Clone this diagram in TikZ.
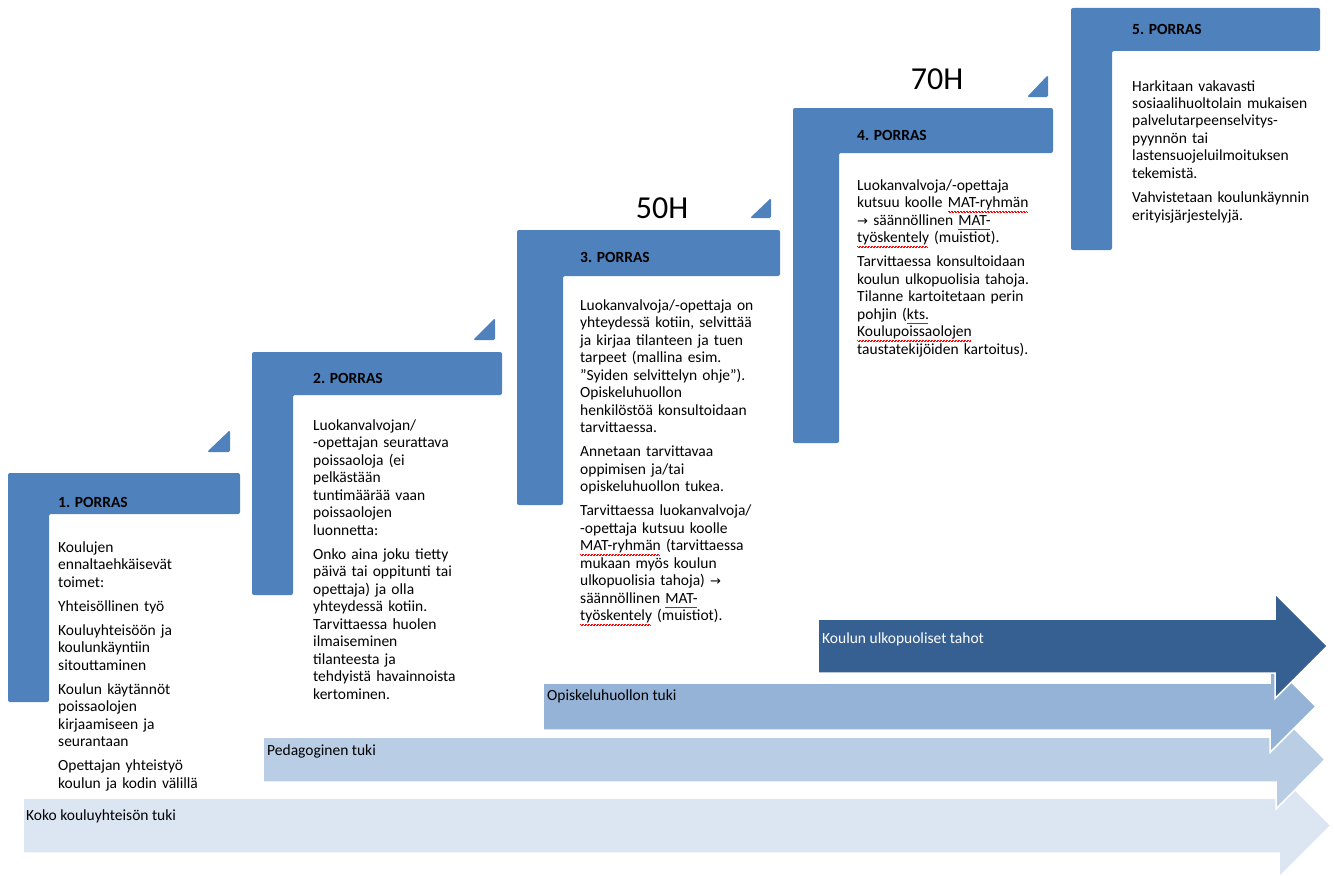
\documentclass[tikz,border=0pt]{standalone}
\usepackage{fontspec}
\setmainfont{Carlito}
\newfontfamily\arrowfont{DejaVu Sans}
\newcommand\wav[1]{\leavevmode\setbox0\hbox{#1}\rlap{\hbox to\wd0{\color{red}\leaders\hbox{\vrule width0.75pt height-3.7pt depth4.5pt\vrule width0.75pt height-4.3pt depth5.1pt}\hfill}}\box0\relax}
\definecolor{stepblue}{HTML}{4F81BD}
\definecolor{arrA}{HTML}{376092}
\definecolor{arrB}{HTML}{95B3D7}
\definecolor{arrC}{HTML}{B9CDE5}
\definecolor{arrD}{HTML}{DCE6F2}
\tikzset{
  stepshape/.style={fill=stepblue, rounded corners=2pt},
  steptri/.style={fill=stepblue, rounded corners=1.5pt},
  bandarrow/.style={draw=white, line width=1.5pt},
  headtxt/.style={anchor=base west, inner sep=0pt, font=\fontsize{15.5}{17.5}\selectfont\bfseries},
  bodytxt/.style={anchor=base west, inner sep=0pt, text width=300pt, align=left, font=\fontsize{15.5}{17.5}\selectfont},
  bandtxt/.style={anchor=base west, inner sep=0pt, font=\fontsize{15.5}{17.5}\selectfont},
  hourtxt/.style={anchor=center, inner sep=0pt, font=\fontsize{32}{36}\selectfont}
}
\begin{document}
\begin{tikzpicture}[x=1pt,y=-1pt]
\useasboundingbox (0,0) rectangle (1335,875);
\fill[white] (0,0) rectangle (1335,875);

% bottom band arrows
\filldraw[bandarrow, fill=arrD] (23,798) -- (1279,798) -- (1279,773.5) -- (1331,825.5) -- (1279,877.5) -- (1279,853) -- (23,853) -- cycle;
\filldraw[bandarrow, fill=arrC] (263,737) -- (1276,737) -- (1276,710) -- (1325,759.5) -- (1276,809) -- (1276,782) -- (263,782) -- cycle;
\filldraw[bandarrow, fill=arrB] (543,683) -- (1270,683) -- (1270,660.5) -- (1316,706.5) -- (1270,752.5) -- (1270,730) -- (543,730) -- cycle;
\filldraw[bandarrow, fill=arrA] (818,619) -- (1275,619) -- (1275,593.5) -- (1327.5,646) -- (1275,698.5) -- (1275,673) -- (818,673) -- cycle;

\node[bandtxt] (bandD) at (26,820) {Koko kouluyhteisön tuki};
\node[bandtxt] (bandC) at (267,755) {Pedagoginen tuki};
\node[bandtxt] (bandB) at (547,700) {Opiskeluhuollon tuki};
\node[bandtxt, text=white] (bandA) at (822,643) {Koulun ulkopuoliset tahot};

% steps
\fill[stepshape] (8,473) -- (240,473) -- (240,514) -- (49,514) -- (49,702) -- (8,702) -- cycle;
\fill[steptri] (207,452) -- (230,452) -- (230,430) -- cycle;
\fill[stepshape] (252,352) -- (502,352) -- (502,395) -- (293,395) -- (293,595) -- (252,595) -- cycle;
\fill[steptri] (473,340) -- (495,340) -- (495,318) -- cycle;
\fill[stepshape] (517,230) -- (780,230) -- (780,276) -- (563,276) -- (563,505) -- (517,505) -- cycle;
\fill[steptri] (750,218) -- (771,218) -- (771,198) -- cycle;
\fill[stepshape] (793,108) -- (1053,108) -- (1053,153) -- (839,153) -- (839,443) -- (793,443) -- cycle;
\fill[steptri] (1027,97) -- (1048,97) -- (1048,75) -- cycle;
\fill[stepshape] (1071,8) -- (1320,8) -- (1320,51) -- (1112,51) -- (1112,250) -- (1071,250) -- cycle;

\node[hourtxt] (h50) at (662,208) {50H};
\node[hourtxt] (h70) at (937,79) {70H};

\node[headtxt] (s1h) at (58,507) {1. PORRAS};
\node[bodytxt] (s1b) at (58,552) {Koulujen\\ennaltaehkäisevät\\toimet:\\[6.5pt]Yhteisöllinen työ\\[6.5pt]Kouluyhteisöön ja\\koulunkäyntiin\\sitouttaminen\\[6.5pt]Koulun käytännöt\\poissaolojen\\kirjaamiseen ja\\seurantaan\\[6.5pt]Opettajan yhteistyö\\koulun ja kodin välillä};

\node[headtxt] (s2h) at (313,383) {2. PORRAS};
\node[bodytxt] (s2b) at (313,430) {Luokanvalvojan/\\-opettajan seurattava\\poissaoloja (ei\\pelkästään\\tuntimäärää vaan\\poissaolojen\\luonnetta:\\[6.5pt]Onko aina joku tietty\\päivä tai oppitunti tai\\opettaja) ja olla\\yhteydessä kotiin.\\Tarvittaessa huolen\\ilmaiseminen\\tilanteesta ja\\tehdyistä havainnoista\\kertominen.};

\node[headtxt] (s3h) at (580,262) {3. PORRAS};
\node[bodytxt] (s3b) at (580,310) {Luokanvalvoja/-opettaja on\\yhteydessä kotiin, selvittää\\ja kirjaa tilanteen ja tuen\\tarpeet (mallina esim.\\”Syiden selvittelyn ohje”).\\Opiskeluhuollon\\henkilöstöä konsultoidaan\\tarvittaessa.\\[6.5pt]Annetaan tarvittavaa\\oppimisen ja/tai\\opiskeluhuollon tukea.\\[6.5pt]Tarvittaessa luokanvalvoja/\\-opettaja kutsuu koolle\\\wav{MAT-ryhmän} (tarvittaessa\\mukaan myös koulun\\ulkopuolisia tahoja) {\arrowfont\fontsize{13}{17.5}\selectfont →}\\säännöllinen \wav{MAT-}\\\wav{työskentely} (muistiot).};

\node[headtxt] (s4h) at (857,140) {4. PORRAS};
\node[bodytxt] (s4b) at (857,190) {Luokanvalvoja/-opettaja\\kutsuu koolle \wav{MAT-ryhmän}\\{\arrowfont\fontsize{13}{17.5}\selectfont →} säännöllinen \wav{MAT-}\\\wav{työskentely} (muistiot).\\[6.5pt]Tarvittaessa konsultoidaan\\koulun ulkopuolisia tahoja.\\Tilanne kartoitetaan perin\\pohjin (\wav{kts.}\\\wav{Koulupoissaolojen}\\taustatekijöiden kartoitus).};

\node[headtxt] (s5h) at (1132,35) {5. PORRAS};
\node[bodytxt] (s5b) at (1132,91) {Harkitaan vakavasti\\sosiaalihuoltolain mukaisen\\palvelutarpeenselvitys-\\pyynnön tai\\lastensuojeluilmoituksen\\tekemistä.\\[6.5pt]Vahvistetaan koulunkäynnin\\erityisjärjestelyjä.};
\end{tikzpicture}
\end{document}
